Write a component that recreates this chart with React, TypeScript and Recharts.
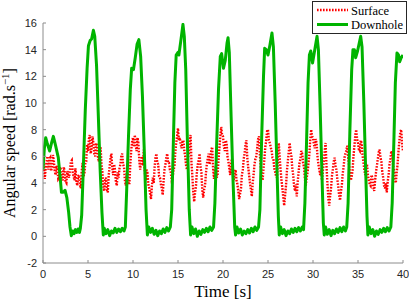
import React from 'react';
import { LineChart, Line, XAxis, YAxis, CartesianGrid } from 'recharts';

// surface speed sampled every 0.1 s from t = 0 to 40 s
const surfaceStep = 0.1;
const surfaceSpeed = [
  4.9, 5.4, 4.3, 5.1, 5.6, 6.0, 5.0, 5.8, 5.9, 4.9, 5.2, 6.1, 5.7, 4.9, 4.6, 5.3, 5.0, 4.3, 4.4, 5.2,
  5.0, 4.4, 4.2, 5.2, 4.9, 4.1, 4.0, 4.9, 4.6, 4.4, 5.0, 5.6, 5.7, 4.8, 4.5, 4.2, 5.1, 4.2, 3.8, 4.5,
  4.6, 3.9, 3.6, 4.9, 5.5, 4.5, 4.7, 5.5, 5.6, 6.9, 6.4, 7.3, 7.6, 6.2, 6.6, 7.5, 7.0, 6.2, 6.0, 7.0,
  6.8, 6.0, 5.6, 6.4, 6.7, 5.4, 4.8, 3.8, 3.4, 4.2, 4.4, 3.5, 3.3, 4.6, 5.2, 5.9, 6.2, 5.1, 4.6, 5.4,
  5.0, 4.1, 3.8, 4.8, 4.4, 5.1, 5.4, 6.0, 6.2, 5.4, 5.2, 4.2, 3.8, 4.7, 4.8, 4.0, 4.0, 5.4, 6.4, 7.1,
  7.4, 6.7, 7.6, 6.8, 6.4, 7.4, 7.0, 5.7, 5.0, 5.7, 6.0, 5.3, 6.5, 5.0, 4.2, 5.0, 4.8, 3.9, 3.6, 3.2,
  2.8, 3.8, 4.4, 4.0, 5.2, 5.9, 6.2, 5.5, 5.4, 4.5, 4.4, 3.9, 3.6, 3.1, 4.2, 5.0, 5.4, 5.9, 6.2, 5.5,
  5.5, 5.0, 4.8, 4.2, 4.3, 5.0, 5.2, 6.3, 7.0, 7.5, 8.1, 7.2, 7.4, 6.9, 6.6, 7.1, 7.2, 6.4, 6.0, 5.3,
  5.0, 5.8, 6.2, 7.1, 7.6, 5.5, 4.5, 3.3, 2.6, 3.3, 3.8, 4.8, 5.4, 5.7, 6.2, 5.2, 4.8, 3.5, 2.9, 3.5,
  3.8, 4.7, 5.4, 5.8, 6.2, 5.4, 5.7, 6.5, 6.7, 5.1, 4.3, 5.0, 5.2, 4.4, 4.6, 5.7, 6.6, 7.5, 8.2, 7.6,
  7.5, 6.7, 6.4, 7.2, 7.0, 6.0, 5.6, 5.1, 4.6, 5.5, 5.8, 4.7, 4.2, 4.8, 5.0, 4.2, 3.9, 3.4, 2.8, 3.2,
  3.6, 4.6, 5.0, 5.8, 6.2, 6.9, 7.2, 5.9, 5.2, 4.6, 4.0, 3.5, 3.0, 4.0, 4.6, 5.4, 5.8, 6.0, 6.6, 7.3,
  7.5, 6.1, 5.2, 4.6, 4.2, 5.1, 5.8, 6.7, 7.2, 7.9, 8.0, 7.2, 7.0, 6.7, 6.4, 5.9, 5.8, 5.1, 4.8, 4.5,
  4.4, 5.9, 7.0, 5.9, 5.0, 4.2, 3.6, 2.9, 2.3, 3.1, 3.8, 4.9, 5.6, 6.3, 7.0, 6.4, 6.0, 5.1, 4.6, 3.8,
  3.4, 3.9, 3.0, 4.1, 4.8, 5.5, 5.8, 6.4, 6.2, 5.5, 5.2, 4.3, 3.8, 4.4, 4.8, 5.5, 6.2, 7.3, 8.0, 7.5,
  7.4, 6.9, 6.6, 7.3, 7.0, 6.0, 5.4, 5.0, 4.6, 5.0, 4.2, 4.9, 5.6, 6.4, 7.0, 5.3, 4.0, 2.9, 2.3, 3.0,
  3.6, 4.5, 5.0, 5.6, 5.9, 5.3, 5.0, 4.3, 3.8, 3.1, 2.7, 3.3, 3.8, 4.7, 5.2, 5.9, 6.2, 6.4, 6.8, 6.0,
  5.4, 4.7, 4.2, 4.5, 5.0, 6.0, 6.8, 7.6, 8.0, 7.3, 7.0, 6.5, 6.4, 7.2, 7.0, 6.1, 5.6, 5.0, 4.6, 5.2,
  5.4, 4.6, 4.2, 3.9, 3.8, 4.6, 4.4, 3.7, 3.4, 4.2, 4.8, 5.3, 5.8, 6.3, 6.5, 5.9, 5.6, 4.8, 4.4, 3.8,
  3.6, 4.0, 3.3, 4.1, 4.6, 5.4, 5.8, 6.4, 6.2, 5.3, 5.0, 4.3, 4.0, 4.8, 5.4, 6.4, 7.2, 7.8, 8.0, 7.0,
  6.4,
];

const downholeTime = [
  0, 0.15, 0.3, 0.5, 0.74, 0.95, 1.15, 1.4, 1.7, 1.9,
  2.05, 2.25, 2.45, 2.65, 2.85, 3.0, 3.15, 3.3, 3.45, 3.6,
  3.75, 3.9, 4.05, 4.15, 4.3, 4.5, 4.7, 4.9, 5.05, 5.25,
  5.4, 5.6, 5.75, 5.95, 6.15, 6.35, 6.55, 6.7,
  6.8, 7.0, 7.2, 7.4, 7.6, 7.8, 8.0, 8.2, 8.4, 8.6, 8.8, 9.0, 9.15,
  9.3, 9.5, 9.7, 9.85, 10.05, 10.25, 10.45, 10.65, 10.85, 11.05, 11.25, 11.45, 11.6,
  11.75, 11.95, 12.15, 12.35, 12.55, 12.75, 12.95, 13.15, 13.35, 13.55, 13.75, 13.95, 14.15,
  14.3, 14.5, 14.65, 14.8, 15.0, 15.1, 15.3, 15.55, 15.7, 15.86, 16.05, 16.25, 16.4,
  16.55, 16.75, 16.95, 17.15, 17.35, 17.55, 17.75, 17.95, 18.15, 18.35, 18.55, 18.75, 18.95,
  19.1, 19.3, 19.5, 19.7, 19.85, 20.05, 20.25, 20.45, 20.56, 20.7, 20.9, 21.1, 21.3, 21.4,
  21.55, 21.75, 21.95, 22.15, 22.35, 22.55, 22.75, 22.95, 23.15, 23.35, 23.55, 23.75, 23.95,
  24.1, 24.3, 24.5, 24.63, 24.8, 25.0, 25.2, 25.44, 25.6, 25.8, 26.0, 26.15, 26.25,
  26.4, 26.6, 26.8, 27.0, 27.2, 27.4, 27.6, 27.8, 28.0, 28.2, 28.4, 28.6, 28.8, 28.95,
  29.1, 29.3, 29.45, 29.6, 29.75, 29.95, 30.15, 30.45, 30.6, 30.8, 31.0, 31.15, 31.25,
  31.4, 31.6, 31.8, 32.0, 32.2, 32.4, 32.6, 32.8, 33.0, 33.2, 33.4, 33.6, 33.75,
  33.9, 34.1, 34.3, 34.44, 34.6, 34.74, 34.95, 35.3, 35.45, 35.65, 35.85, 36.0, 36.1,
  36.25, 36.45, 36.65, 36.85, 37.05, 37.25, 37.45, 37.65, 37.85, 38.05, 38.25, 38.45, 38.65,
  38.8, 39.0, 39.15, 39.33, 39.5, 39.63, 39.8, 40.0,
];

const downholeSpeed = [
  5.0, 6.6, 7.4, 6.9, 6.4, 7.0, 7.5, 6.8, 5.9, 4.5,
  3.3, 3.3, 3.45, 2.9, 1.8, 0.7, 0.05, 0.4, 0.2, 0.5,
  0.3, 0.55, 0.3, 0.6, 1.6, 5.5, 9.5, 12.6, 14.3, 14.7,
  14.8, 15.45, 15.0, 12.8, 9.0, 5.0, 1.8, 0.1,
  0.6, 0.2, 0.5, 0.05, 0.4, 0.25, 0.6, 0.3, 0.55, 0.35, 0.6, 0.4, 0.7,
  3.5, 7.5, 11.0, 12.6, 12.5, 13.4, 14.4, 14.75, 13.5, 10.5, 6.5, 2.0, 0.1,
  0.7, 0.3, 0.6, 0.15, 0.45, 0.05, 0.4, 0.2, 0.55, 0.3, 0.65, 0.4, 0.7,
  2.0, 7.5, 11.5, 13.6, 13.8, 13.6, 14.6, 15.9, 15.0, 12.5, 7.0, 2.0, 0.1,
  0.7, 0.2, 0.55, 0.0, 0.4, 0.15, 0.5, 0.3, 0.6, 0.35, 0.7, 0.45, 0.7,
  2.5, 7.0, 11.0, 13.5, 13.7, 12.6, 13.2, 14.5, 14.9, 13.8, 9.0, 4.5, 0.7, 0.1,
  0.7, 0.25, 0.55, 0.1, 0.4, 0.2, 0.5, 0.25, 0.6, 0.35, 0.7, 0.45, 0.7,
  2.0, 7.5, 12.0, 14.1, 14.0, 13.6, 14.3, 15.25, 14.2, 10.0, 5.0, 1.5, 0.1,
  0.7, 0.2, 0.5, 0.05, 0.4, 0.2, 0.55, 0.3, 0.6, 0.35, 0.65, 0.4, 0.7, 0.5,
  2.5, 7.5, 11.5, 13.6, 13.9, 13.0, 13.8, 15.0, 14.0, 9.5, 4.5, 1.0, 0.1,
  0.7, 0.15, 0.5, 0.05, 0.45, 0.2, 0.55, 0.3, 0.65, 0.35, 0.7, 0.4, 0.7,
  2.5, 8.0, 12.5, 14.0, 14.0, 13.4, 13.9, 15.0, 14.2, 10.0, 5.0, 1.5, 0.1,
  0.7, 0.2, 0.5, 0.0, 0.4, 0.15, 0.5, 0.3, 0.6, 0.35, 0.65, 0.4, 0.7,
  2.5, 7.5, 11.5, 13.75, 13.6, 13.1, 13.4, 13.6,
];

const xTicks = [0, 5, 10, 15, 20, 25, 30, 35, 40];
const yTicks = [-2, 0, 2, 4, 6, 8, 10, 12, 14, 16];

const surfaceData = surfaceSpeed.map((v, i) => ({ t: +(i * surfaceStep).toFixed(2), v }));
const downholeData = downholeTime.map((t, i) => ({ t, v: downholeSpeed[i] }));

const SURFACE_COLOR = '#ff0000';
const DOWNHOLE_COLOR = '#00b400';
const AXIS_COLOR = '#8c8c8c';
const tickStyle = { fontSize: 11, fill: '#262626', fontFamily: '"Liberation Sans", Arial, sans-serif' };
const serif = '"Liberation Serif", "Times New Roman", serif';

const noTick = () => <g />;

const LegendBox: React.FC = () => (
  <g>
    <rect x={312.5} y={1.5} width={94} height={32} fill="#fff" stroke="#262626" strokeWidth={1} />
    <line x1={317} y1={10} x2={348} y2={10} stroke={SURFACE_COLOR} strokeWidth={2.4} strokeDasharray="1.6 1.4" />
    <text x={351} y={14.5} fontFamily={serif} fontSize={12.5} fill="#000">Surface</text>
    <line x1={317} y1={24.5} x2={348} y2={24.5} stroke={DOWNHOLE_COLOR} strokeWidth={3} />
    <text x={351} y={29} fontFamily={serif} fontSize={12.5} fill="#000">Downhole</text>
  </g>
);

const App: React.FC = () => {
  return (
    <div style={{ position: 'absolute', left: 0, top: 0, width: 409, height: 304, background: '#fff' }}>
      <LineChart width={409} height={304} margin={{ top: 23, right: 6, left: 0, bottom: 0 }}>
        <CartesianGrid stroke="#e3e3e3" strokeWidth={1} horizontalValues={yTicks} verticalValues={xTicks} />
        <XAxis
          xAxisId="b"
          dataKey="t"
          type="number"
          domain={[0, 40]}
          ticks={xTicks}
          allowDataOverflow
          height={41}
          stroke={AXIS_COLOR}
          tickSize={-3}
          tickMargin={10}
          tick={tickStyle}
        />
        <XAxis
          xAxisId="t"
          orientation="top"
          dataKey="t"
          type="number"
          domain={[0, 40]}
          ticks={xTicks}
          allowDataOverflow
          height={0}
          stroke={AXIS_COLOR}
          tickSize={-3}
          tick={noTick}
        />
        <YAxis
          yAxisId="l"
          type="number"
          domain={[-2, 16]}
          ticks={yTicks}
          allowDataOverflow
          width={43}
          stroke={AXIS_COLOR}
          tickSize={-3}
          tickMargin={9}
          tick={tickStyle}
        />
        <YAxis
          yAxisId="r"
          orientation="right"
          type="number"
          domain={[-2, 16]}
          ticks={yTicks}
          allowDataOverflow
          width={0}
          stroke={AXIS_COLOR}
          tickSize={-3}
          tick={noTick}
        />
        <Line
          xAxisId="b"
          yAxisId="l"
          data={surfaceData}
          dataKey="v"
          type="linear"
          stroke={SURFACE_COLOR}
          strokeWidth={2.4}
          strokeDasharray="1.6 1.4"
          dot={false}
          activeDot={false}
          isAnimationActive={false}
          name="Surface"
        />
        <Line
          xAxisId="b"
          yAxisId="l"
          data={downholeData}
          dataKey="v"
          type="linear"
          stroke={DOWNHOLE_COLOR}
          strokeWidth={3}
          strokeLinejoin="round"
          dot={false}
          activeDot={false}
          isAnimationActive={false}
          name="Downhole"
        />
      </LineChart>
      <svg width={409} height={304} style={{ position: 'absolute', left: 0, top: 0, pointerEvents: 'none' }}>
        <text
          transform="translate(15,143) rotate(-90)"
          textAnchor="middle"
          fontFamily={serif}
          fontSize={16}
          fill="#000"
        >
          Angular speed [rad.s
          <tspan fontSize={11} dy={-6}>−1</tspan>
          <tspan dy={6}>]</tspan>
        </text>
        <text x={223} y={297} textAnchor="middle" fontFamily={serif} fontSize={17} fill="#000">
          Time [s]
        </text>
        <LegendBox />
      </svg>
    </div>
  );
};

export default App;
